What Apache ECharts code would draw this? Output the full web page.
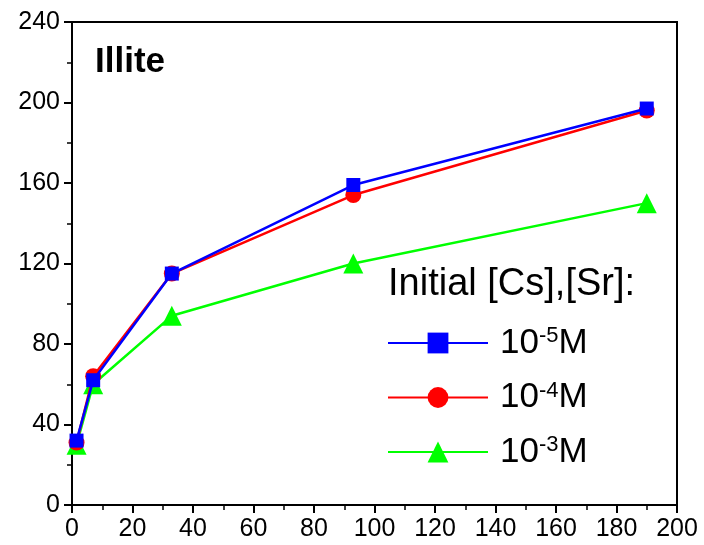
<!DOCTYPE html>
<html lang="en">
<head>
    <meta charset="UTF-8">
    <title>Illite</title>
    <script src="https://cdn.jsdelivr.net/npm/echarts@6/dist/echarts.min.js"></script>
</head>
<body style="margin: 0">
<div id="chart" style="width: 704px;height: 545px"></div>
<script>
    // sampling times and sorbed amounts
    let times = [1.5, 7, 33, 93, 190]
    let cs5 = [32, 62, 115, 159, 197]
    let cs4 = [31, 64, 115, 154, 196]
    let cs3 = [30, 60, 94, 120, 150]
    let names = ['1e-5', '1e-4', '1e-3']
    let labels = {'1e-5': '-5', '1e-4': '-4', '1e-3': '-3'}

    function pairs(ys) {
        return ys.map((y, i) => [times[i], y])
    }

    let chart = echarts.init(document.getElementById('chart'));
    let font = 'Liberation Sans, Arial, sans-serif'

    let axisCommon = {
        axisLine: {onZero: false, lineStyle: {color: '#000', width: 2}},
        axisTick: {inside: false, length: 8, lineStyle: {color: '#000', width: 2}},
        minorTick: {show: true, splitNumber: 2, length: 5, lineStyle: {color: '#000', width: 1.5}},
        axisLabel: {color: '#000', fontSize: 25, fontFamily: font, margin: 12},
        splitLine: {show: false}
    }

    let option = {
        animation: false,
        grid: {left: 72, right: 27, top: 22, bottom: 40, show: true, borderColor: '#000', borderWidth: 2},
        title: {
            text: 'Illite', left: 90, top: 40,
            textStyle: {fontSize: 35, fontWeight: 'bold', color: '#000', fontFamily: font}
        },
        graphic: [{
            type: 'text', left: 388, top: 266,
            style: {text: 'Initial [Cs],[Sr]:', fontSize: 38, fill: '#000', fontFamily: font}
        }],
        legend: {
            orient: 'vertical', left: 382, top: 320, itemWidth: 100, itemHeight: 26, itemGap: 19,
            data: names,
            formatter: n => '{a|10}{s|' + labels[n] + '}{a|M}',
            textStyle: {
                color: '#000', fontFamily: font, padding: [0, 0, 0, 7],
                rich: {
                    a: {fontSize: 35, fontFamily: font, color: '#000', lineHeight: 36},
                    s: {fontSize: 22, fontFamily: font, color: '#000', verticalAlign: 'top', lineHeight: 36}
                }
            }
        },
        xAxis: Object.assign({type: 'value', min: 0, max: 200, interval: 20}, axisCommon),
        yAxis: Object.assign({type: 'value', min: 0, max: 240, interval: 40}, axisCommon),
        series: [
            {
                name: '1e-5', type: 'line', data: pairs(cs5), z: 4,
                symbol: 'rect', symbolSize: 14, color: '#0000ff',
                lineStyle: {width: 2.5}
            },
            {
                name: '1e-4', type: 'line', data: pairs(cs4), z: 3,
                symbol: 'circle', symbolSize: 16, color: '#ff0000',
                lineStyle: {width: 2.5}
            },
            {
                name: '1e-3', type: 'line', data: pairs(cs3), z: 2,
                symbol: 'triangle', symbolSize: 20, color: '#00ff00',
                lineStyle: {width: 2.5}
            }
        ]
    };
    chart.setOption(option);
</script>
</body>
</html>
